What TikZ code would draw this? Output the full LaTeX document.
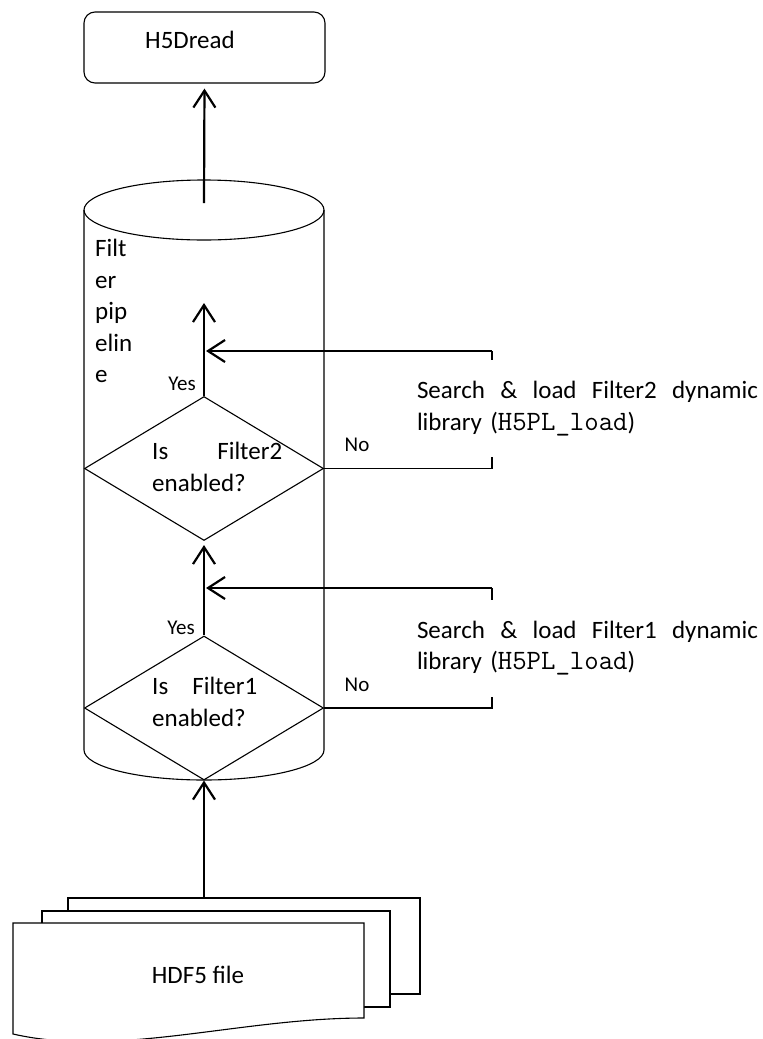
\documentclass[tikz,border=0pt]{standalone}
\usepackage{fontspec}
\setmainfont{Carlito}
\usetikzlibrary{shapes.geometric,arrows.meta}
\newcommand{\codetxt}[1]{{\fontsize{28}{31.5}\selectfont\ttfamily #1}}
\tikzset{
  edge1/.style={line width=1.1pt},
  conn/.style={line width=2.2pt},
  arr/.style={conn,-{Straight Barb[length=17pt,width=22pt]}},
  rbox/.style={draw,line width=1.1pt,rounded corners=11pt,minimum width=241pt,minimum height=71pt,inner sep=0},
  dec/.style={draw,diamond,line width=1.1pt,minimum width=239pt,minimum height=144pt,inner sep=0,aspect=1.66},
  txt/.style={font=\fontsize{25}{31.5}\selectfont,inner sep=0},
  lbl/.style={font=\fontsize{21}{25}\selectfont,inner sep=0},
  doc/.style={draw,fill=white,line width=1.1pt,inner sep=0},
  search/.style={txt,fill=white,text width=341pt,align=left,minimum height=97pt},
}
\begin{document}
\begin{tikzpicture}[x=1pt,y=-1pt]
\useasboundingbox (0,0) rectangle (763,1039);

% H5Dread box
\node[rbox] (read) at (204.5,47.5) {};
\node[txt] (readt) at (190,40) {H5Dread};

% cylinder (filter pipeline)
\draw[edge1] (204,210) ellipse [x radius=120pt, y radius=30pt];
\draw[edge1] (84,210) -- (84,750) arc[start angle=180,end angle=360,x radius=120pt,y radius=30pt] -- (324,210);
\coordinate (ctop) at (204,203);
\node[txt,anchor=north west,align=left] (fp) at (95,239) {Filt\\er\\pip\\elin\\e};

% decisions
\node[dec] (d2) at (204,468.5) {};
\node[txt,anchor=west,align=left] (q2) at (152,467) {\hbox to 130pt{Is\hfill Filter2}\\enabled?};
\node[dec] (d1) at (204,708) {};
\node[txt,anchor=west,align=left] (q1) at (152,702) {\hbox to 105pt{Is\hfill Filter1}\\enabled?};

% labels
\node[lbl] (yes2) at (182,384) {Yes};
\node[lbl] (yes1) at (181,628) {Yes};
\node[lbl] (no2) at (357,445) {No};
\node[lbl] (no1) at (357,685) {No};

% documents
\node[doc,minimum width=352pt,minimum height=96pt] (docC) at (244,946) {};
\node[doc,minimum width=348pt,minimum height=96pt] (docB) at (216,959) {};
\draw[doc] (13,923) -- (364,923) -- (364,1018) .. controls (240,1018) and (118,1058) .. (13,1034) -- cycle;
\node[txt] (file) at (198,975) {HDF5 file};

% coordinates for connectors
\coordinate (p2) at (204,303);
\coordinate (c2b) at (492,468.5);
\coordinate (c2t) at (492,351);
\coordinate (t2) at (206,351);
\coordinate (c1b) at (492,708);
\coordinate (c1t) at (492,588);
\coordinate (t1) at (206,588);

% connectors
\draw[arr,shorten >=5pt] (ctop) -- (read.south);
\draw[arr] (d2.north) -- (p2);
\draw[arr,shorten >=4pt] (d1.north) -- (d2.south);
\draw[arr] (d1.south |- docC.north) -- (d1.south);
\draw[edge1] (d2.east) -- (c2b) -- (c2t);
\draw[arr] (c2t) -- (t2);
\draw[edge1] (d1.east) -- (c1b) -- (c1t);
\draw[arr] (c1t) -- (t1);

% search boxes (white, hiding connector middles)
\node[search] (s2) at (587.5,408.5) {\hbox to \linewidth{Search\hfill\&\hfill load\hfill Filter2\hfill dynamic}\\library (\codetxt{H5PL\_load})};
\node[search] (s1) at (587.5,648) {\hbox to \linewidth{Search\hfill\&\hfill load\hfill Filter1\hfill dynamic}\\library (\codetxt{H5PL\_load})};
\end{tikzpicture}
\end{document}
